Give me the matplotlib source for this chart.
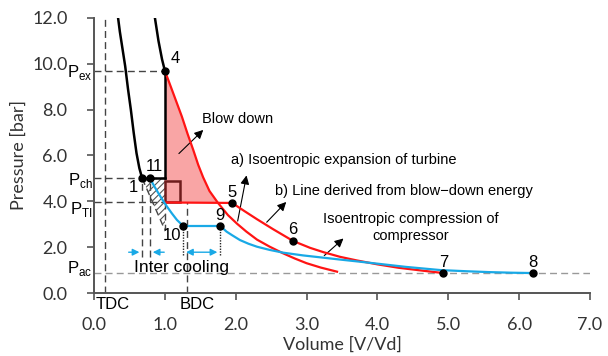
import numpy as np
import matplotlib.pyplot as plt
from matplotlib.patches import Rectangle

plt.rcParams['font.family'] = ['Liberation Sans', 'DejaVu Sans']
plt.rcParams['mathtext.fontset'] = 'custom'
plt.rcParams['mathtext.rm'] = 'Liberation Sans'
plt.rcParams['hatch.linewidth'] = 0.8

# levels
P_ex, P_ch, P_TI, P_ac = 9.7, 5.0, 3.95, 0.87
V_TDC, V_BDC = 0.155, 1.31

# numbered state points (V/Vd, bar)
pt_labels = ['1', '4', '5', '6', '7', '8', '9', '10', '11']
pt_v = [0.68, 1.0, 1.95, 2.81, 4.93, 6.2, 1.78, 1.26, 0.79]
pt_p = [5.0, 9.7, 3.93, 2.27, 0.87, 0.87, 2.93, 2.93, 5.0]
lab_v = [0.55, 1.14, 1.95, 2.81, 4.93, 6.2, 1.78, 1.10, 0.85]
lab_p = [4.6, 10.25, 4.4, 2.78, 1.32, 1.32, 3.4, 2.5, 5.5]

# compression / expansion in cylinder (black)
comp_v = [0.34, 0.365, 0.39, 0.415, 0.44, 0.48, 0.52, 0.56, 0.60, 0.64, 0.68]
comp_p = [12.0, 11.4, 10.9, 10.4, 9.9, 8.9, 8.0, 7.0, 6.1, 5.45, 5.0]
exp_v = [0.86, 0.885, 0.91, 0.935, 0.96, 0.98, 1.0]
exp_p = [12.0, 11.5, 11.0, 10.6, 10.2, 9.95, 9.7]

# a) isentropic expansion of turbine
a_v = [1.0, 1.06, 1.12, 1.24, 1.32, 1.40, 1.47, 1.54, 1.63, 1.75, 1.89, 2.02,
       2.15, 2.30, 2.48, 2.67, 2.83, 3.0, 3.2, 3.43]
a_p = [9.7, 9.2, 8.7, 7.7, 6.95, 6.25, 5.6, 5.05, 4.45, 3.93, 3.40, 3.02,
       2.68, 2.33, 2.02, 1.73, 1.51, 1.30, 1.11, 0.93]

# b) line derived from blow-down energy
b_v = [1.95, 2.12, 2.30, 2.53, 2.81, 3.05, 3.24, 3.47, 3.71, 4.0, 4.3, 4.65, 4.93]
b_p = [3.93, 3.58, 3.22, 2.78, 2.27, 1.97, 1.78, 1.58, 1.42, 1.25, 1.10, 0.97, 0.87]

# compressor, 11 -> 10 and 9 -> 8
c1_v = [0.79, 0.85, 0.91, 0.97, 1.03, 1.10, 1.17, 1.22, 1.26]
c1_p = [5.0, 4.66, 4.35, 4.05, 3.77, 3.47, 3.19, 3.04, 2.93]
c2_v = [1.78, 1.82, 1.87, 1.95, 2.06, 2.18, 2.30, 2.48, 2.67, 2.95, 3.24, 3.47,
        3.71, 4.0, 4.4, 4.89, 5.25, 5.59, 5.9, 6.2]
c2_p = [2.93, 2.82, 2.68, 2.52, 2.31, 2.15, 2.02, 1.88, 1.76, 1.64, 1.54, 1.46,
        1.38, 1.28, 1.14, 1.0, 0.95, 0.91, 0.885, 0.87]

xticks = [0, 1, 2, 3, 4, 5, 6, 7]
yticks = [0, 2, 4, 6, 8, 10, 12]

RED = '#ff1414'
BLUE = '#19a9e6'
GRAY = '#555555'

fig = plt.figure(figsize=(6.08, 3.56), dpi=100)
ax = fig.add_axes([94/608, 1 - 293/356, 496/608, 275/356])
ax.set_xlim(0, 7)
ax.set_ylim(0, 12)

# dashed guide lines
dash = dict(color='#444444', ls=(0, (5, 3)), lw=1.0, zorder=1)
ax.plot([0, 1.0], [P_ex, P_ex], **dash)
ax.plot([0, V_BDC], [P_ch, P_ch], **dash)
ax.plot([0, 1.0], [P_TI, P_TI], **dash)
ax.plot([0, 7.0], [P_ac, P_ac], color='#999999', ls=(0, (5, 3)), lw=1.0, zorder=1)
ax.plot([V_TDC, V_TDC], [0, 12], **dash)
ax.plot([V_BDC, V_BDC], [0, P_ch], **dash)
ax.plot([pt_v[0], pt_v[0]], [1.58, P_ch], **dash)
ax.plot([pt_v[8], pt_v[8]], [1.58, P_ch], **dash)
dot = dict(color='#222222', ls=(0, (1, 1)), lw=1.0, zorder=1)
ax.plot([pt_v[7], pt_v[7]], [1.66, pt_p[7]], **dot)
ax.plot([pt_v[6], pt_v[6]], [1.66, pt_p[6]], **dot)

# blow down area
fill_v = [v for v, p in zip(a_v, a_p) if p >= P_TI] + [1.75, 1.0]
fill_p = [p for p in a_p if p >= P_TI] + [P_TI, P_TI]
ax.fill(fill_v, fill_p, color='#f9a5a5', lw=0, zorder=2)

# hatched triangle
ax.fill([pt_v[0], 1.0, 1.0], [P_ch, P_ch, 2.75], facecolor='none',
        edgecolor='#555555', hatch='/////', lw=0, zorder=2)
ax.plot([pt_v[0], 1.0], [P_ch, 2.75], **dash)
ax.plot([1.0, 1.0], [P_TI, 2.75], **dash)

ax.add_patch(Rectangle((1.0, P_TI), 0.21, 4.9 - P_TI, fill=False,
                       edgecolor='#6e1c1c', lw=1.8, zorder=4))

# curves
ax.plot(comp_v, comp_p, color='black', lw=1.8, zorder=5)
ax.plot(exp_v, exp_p, color='black', lw=1.8, zorder=5)
ax.plot([1.0, 1.0], [P_ex, P_ch], color='black', lw=1.8, zorder=5)
ax.plot([pt_v[0], 1.0], [P_ch, P_ch], color='black', lw=1.8, zorder=5)
ax.plot(a_v, a_p, color=RED, lw=1.6, zorder=5)
ax.plot([1.0, b_v[0]], [P_TI, b_p[0]], color=RED, lw=1.6, zorder=5)
ax.plot(b_v, b_p, color=RED, lw=1.6, zorder=5)
ax.plot(c1_v, c1_p, color=BLUE, lw=1.6, zorder=5)
ax.plot([pt_v[7], pt_v[6]], [pt_p[7], pt_p[6]], color=BLUE, lw=1.6, zorder=5)
ax.plot(c2_v, c2_p, color=BLUE, lw=1.6, zorder=5)

ax.plot(pt_v, pt_p, 'o', color='black', ms=5, zorder=6)
for lab, x, y in zip(pt_labels, lab_v, lab_p):
    ax.text(x, y, lab, fontsize=12, ha='center', va='center', zorder=7)

# annotations
arw = dict(arrowstyle='-|>', color='black', lw=0.8, mutation_scale=13)
ax.annotate('', xy=(1.57, 7.2), xytext=(1.17, 6.0), arrowprops=arw)
ax.text(1.52, 7.6, 'Blow down', fontsize=10.5, va='center')
ax.annotate('', xy=(2.16, 5.25), xytext=(2.02, 3.02), arrowprops=arw)
ax.text(3.52, 5.8, 'a) Isoentropic expansion of turbine', fontsize=10.5,
        ha='center', va='center')
ax.annotate('', xy=(2.74, 4.06), xytext=(2.41, 3.0), arrowprops=arw)
ax.text(4.38, 4.47, 'b) Line derived from blow\u2212down energy', fontsize=10.5,
        ha='center', va='center')
ax.annotate('', xy=(3.55, 2.46), xytext=(3.22, 1.55), arrowprops=arw)
ax.text(4.47, 2.85, 'Isoentropic compression of\ncompressor', fontsize=10.5,
        ha='center', va='center', linespacing=1.25)

# inter cooling arrows
barw = dict(arrowstyle='-|>', color=BLUE, lw=1.0, mutation_scale=10)
ax.annotate('', xy=(pt_v[0], 1.78), xytext=(0.45, 1.78), arrowprops=barw)
ax.annotate('', xy=(pt_v[8], 1.78), xytext=(1.03, 1.78), arrowprops=barw)
ax.annotate('', xy=(pt_v[6], 1.78), xytext=(pt_v[7], 1.78),
            arrowprops=dict(arrowstyle='<|-|>', color=BLUE, lw=1.0, mutation_scale=10))
ax.text(1.24, 1.1, 'Inter cooling', fontsize=12.5, ha='center', va='center')

# pressure labels left of the axis
for s, y in [(r'P$_{\rm ex}$', 9.6), (r'P$_{\rm ch}$', 4.9), (r'P$_{\rm TI}$', 3.65), (r'P$_{\rm ac}$', 1.05)]:
    ax.text(-0.02, y, s, fontsize=12, ha='right', va='center', clip_on=False)
ax.text(0.27, -0.52, 'TDC', fontsize=12, ha='center', va='center', clip_on=False)
ax.text(1.45, -0.52, 'BDC', fontsize=12, ha='center', va='center', clip_on=False)

# axes styling
for side in ['top', 'right']:
    ax.spines[side].set_visible(False)
for side in ['left', 'bottom']:
    ax.spines[side].set_color(GRAY)
    ax.spines[side].set_linewidth(1.4)
ax.set_xticks(xticks)
ax.set_yticks(yticks)
ax.set_xticklabels(['%.1f' % v for v in xticks], fontfamily='Lato')
ax.set_yticklabels(['%.1f' % v for v in yticks], fontfamily='Lato')
ax.tick_params(axis='both', direction='out', length=5, width=1.2, color=GRAY,
               labelsize=13, labelcolor='#333333')
ax.tick_params(axis='x', pad=12)
ax.tick_params(axis='y', pad=14)
ax.set_xlabel('Volume [V/Vd]', fontsize=13, fontfamily='Lato', color='#333333')
ax.set_ylabel('Pressure [bar]', fontsize=13, fontfamily='Lato', color='#333333')
ax.xaxis.set_label_coords(0.5, -0.16)
ax.yaxis.set_label_coords(-0.135, 0.5)

fig.savefig('out.png', dpi=100)
